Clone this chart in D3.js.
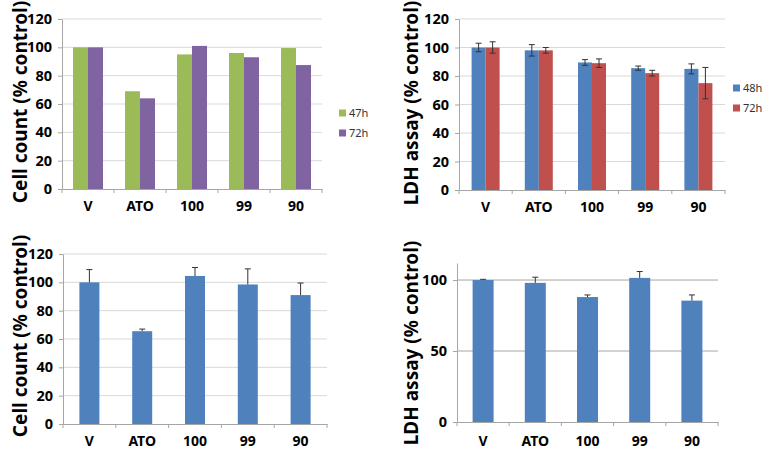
<!DOCTYPE html>
<html><head><meta charset="utf-8">
<script src="https://cdn.jsdelivr.net/npm/d3@7"></script>
<style>body{margin:0;background:#fff}svg{display:block}text{font-family:"Noto Sans","Open Sans",sans-serif}</style>
</head><body><svg id="c" width="773" height="457"></svg>
<script>
const categories = ["V","ATO","100","99","90"];
// Panel A: cell count, two time points
const cellSeries = ["47h","72h"];
const cell47 = [100, 69, 95, 96, 99.5];
const cell72 = [100, 64, 101, 93, 87.5];
// Panel B: LDH assay, two time points with error
const ldhSeries = ["48h","72h"];
const ldh48 = [100, 98, 89.5, 85.5, 85];
const ldh48Err = [3, 4, 2, 1.5, 3.5];
const ldh72 = [100, 98, 89, 82, 75];
const ldh72Err = [4, 2, 3, 2, 11];
// Panel C: cell count single series
const cell2 = [100, 65.5, 104.5, 98.5, 91];
const cell2Err = [9, 1.5, 6, 11, 8.5];
// Panel D: LDH single series
const ldh2 = [100, 98, 88, 101.5, 85.5];
const ldh2Err = [0.5, 4, 1.5, 4.5, 4];
const ticks120 = [0,20,40,60,80,100,120];
const ticks100 = [0,50,100];

const colors = {green:"#9BBB59", purple:"#8064A2", blue:"#4F81BD", red:"#C0504D"};
const svg = d3.select("#c");

function panel(cfg){
  const g = svg.append("g");
  const x = d3.scaleBand().domain(categories).range([cfg.x0, cfg.x1]);
  const y = d3.scaleLinear().domain([0, cfg.yMax]).range([cfg.yBot, cfg.yTop]);
  // gridlines
  g.selectAll(".grid").data(cfg.ticks.filter(t => t > 0)).enter().append("line")
    .attr("x1", cfg.x0).attr("x2", cfg.x1).attr("y1", d=>y(d)).attr("y2", d=>y(d))
    .attr("stroke", cfg.gridColor).attr("stroke-width", 1);
  // bars
  const n = cfg.series.length;
  cfg.series.forEach((s, i) => {
    g.selectAll(null).data(s.values).enter().append("rect")
      .attr("x", (d, j) => x(categories[j]) + x.bandwidth()/2 - n*cfg.barW/2 + i*cfg.barW)
      .attr("width", cfg.barW)
      .attr("y", d => y(d)).attr("height", d => y(0) - y(d))
      .attr("fill", s.color);
    if (s.err) {
      s.values.forEach((v, j) => {
        const cx = x(categories[j]) + x.bandwidth()/2 - n*cfg.barW/2 + i*cfg.barW + cfg.barW/2;
        const lo = cfg.oneSided ? v : v - s.err[j];
        const hi = v + s.err[j];
        g.append("line").attr("x1",cx).attr("x2",cx).attr("y1",y(lo)).attr("y2",y(hi)).attr("stroke","#333").attr("stroke-width",1);
        g.append("line").attr("x1",cx-3).attr("x2",cx+3).attr("y1",y(hi)).attr("y2",y(hi)).attr("stroke","#333").attr("stroke-width",1);
        if (!cfg.oneSided) g.append("line").attr("x1",cx-3).attr("x2",cx+3).attr("y1",y(lo)).attr("y2",y(lo)).attr("stroke","#333").attr("stroke-width",1);
      });
    }
  });
  // axes
  const ax = g.append("g").attr("transform", `translate(0,${cfg.yBot})`)
    .call(d3.axisBottom(x).tickSize(0).tickPadding(cfg.xPad));
  ax.select(".domain").attr("stroke", cfg.axisColor);
  ax.selectAll("text").attr("font-size", 14).attr("font-weight", "bold").attr("fill", "#000");
  // category boundary ticks
  const bounds = categories.map(c => x(c)).concat([cfg.x1]);
  g.selectAll(null).data(bounds).enter().append("line")
    .attr("x1", d=>d).attr("x2", d=>d).attr("y1", cfg.yBot).attr("y2", cfg.yBot+4)
    .attr("stroke", cfg.axisColor);
  const ay = g.append("g").attr("transform", `translate(${cfg.x0},0)`)
    .call(d3.axisLeft(y).tickValues(cfg.ticks).tickSize(4).tickPadding(cfg.yPad).tickSizeOuter(0));
  ay.select(".domain").attr("stroke", cfg.axisColor);
  ay.selectAll(".tick line").attr("stroke", cfg.axisColor);
  ay.selectAll("text").attr("font-size", 14.5).attr("font-weight", "bold").attr("fill", "#000");
  // title
  g.append("text").attr("transform", `translate(${cfg.titleX},${cfg.titleY}) rotate(-90)`)
    .attr("text-anchor","middle").attr("font-size", 19).attr("font-weight","bold").attr("fill","#000")
    .text(cfg.title);
  // legend
  if (cfg.legend) {
    cfg.series.forEach((s, i) => {
      const ly = cfg.legendY + i*cfg.legendGap;
      g.append("rect").attr("x", cfg.legendX).attr("y", ly-3.5).attr("width", 7).attr("height", 7).attr("fill", s.color);
      g.append("text").attr("x", cfg.legendX+10).attr("y", ly+4).attr("font-size", 11).attr("fill","#333").text(s.name);
    });
  }
}

panel({x0:62, x1:322, yTop:19, yBot:189, yMax:120, ticks:ticks120, barW:15,
  series:[{name:cellSeries[0], values:cell47, color:colors.green},{name:cellSeries[1], values:cell72, color:colors.purple}],
  title:"Cell count (% control)", titleX:27, titleY:102, xPad:12, yPad:6,
  gridColor:"#d9d9d9", axisColor:"#a6a6a6", legend:true, legendX:339, legendY:113, legendGap:20});

panel({x0:459, x1:725, yTop:19, yBot:190, yMax:120, ticks:ticks120, barW:14,
  series:[{name:ldhSeries[0], values:ldh48, err:ldh48Err, color:colors.blue},{name:ldhSeries[1], values:ldh72, err:ldh72Err, color:colors.red}],
  title:"LDH assay (% control)", titleX:418, titleY:103, xPad:12, yPad:6,
  gridColor:"#d9d9d9", axisColor:"#a6a6a6", legend:true, legendX:733, legendY:88, legendGap:20});

panel({x0:63, x1:327, yTop:254, yBot:424, yMax:120, ticks:ticks120, barW:20, oneSided:true,
  series:[{name:"", values:cell2, err:cell2Err, color:colors.blue}],
  title:"Cell count (% control)", titleX:27, titleY:336, xPad:12, yPad:6,
  gridColor:"#d9d9d9", axisColor:"#a6a6a6", legend:false});

panel({x0:457, x1:718, yTop:263, yBot:422, yMax:112, ticks:ticks100, barW:21, oneSided:true,
  series:[{name:"", values:ldh2, err:ldh2Err, color:colors.blue}],
  title:"LDH assay (% control)", titleX:418, titleY:343, xPad:14, yPad:6,
  gridColor:"#a6a6a6", axisColor:"#a6a6a6", legend:false});
</script></body></html>
